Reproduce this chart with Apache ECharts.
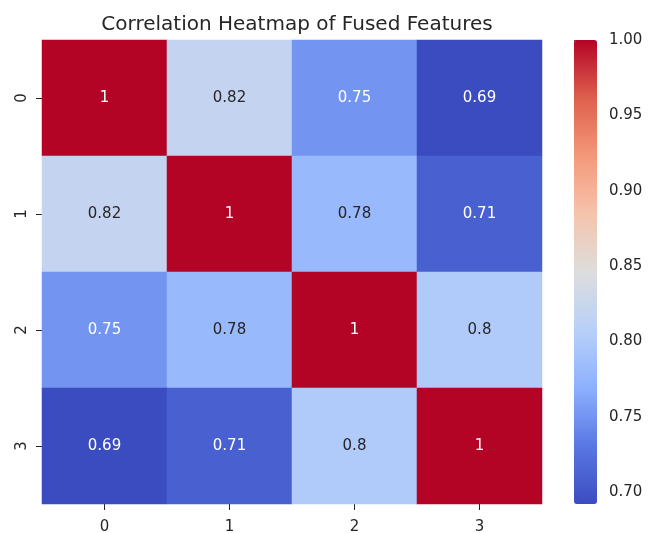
<!DOCTYPE html>
<html>
<head>
<meta charset="utf-8">
<script src="https://cdn.jsdelivr.net/npm/echarts@6/dist/echarts.min.js"></script>
<style>
  html, body { margin: 0; padding: 0; background: #fff; }
  #chart { width: 652px; height: 533px; }
</style>
</head>
<body>
<div id="chart"></div>
<script>
var features = ['0', '1', '2', '3'];
var corr = [
  [1, 0.82, 0.75, 0.69],
  [0.82, 1, 0.78, 0.71],
  [0.75, 0.78, 1, 0.8],
  [0.69, 0.71, 0.8, 1]
];
var colorbarTicks = [0.70, 0.75, 0.80, 0.85, 0.90, 0.95, 1.00];
var scaleMin = 0.692;
var scaleMax = 1;

// matplotlib "coolwarm" stops
var coolwarm = ['#3b4cc0', '#5977e3', '#8db0fe', '#b8d0f9', '#dddddd',
                '#f5c4ac', '#f4987a', '#de604d', '#b40426'];

var font = 'DejaVu Sans';
var ink = '#262626';
var hidden = { show: true, lineStyle: { color: 'rgba(0,0,0,0)' } };

var cells = [];
corr.forEach(function(row, y) {
  row.forEach(function(v, x) {
    var dark = v <= 0.755 || v >= 0.93;
    cells.push({
      value: [x, y, v],
      label: { color: dark ? '#ffffff' : ink }
    });
  });
});

var chart = echarts.init(document.getElementById('chart'), null, { renderer: 'canvas' });
chart.setOption({
  animation: false,
  title: {
    text: 'Correlation Heatmap of Fused Features',
    left: 292,
    top: 10,
    textAlign: 'center',
    textStyle: { fontFamily: font, fontSize: 20, fontWeight: 'normal', color: ink }
  },
  grid: [
    { left: 42, top: 40, width: 500, height: 464, outerBoundsMode: 'none' },
    { left: 574, top: 40, width: 23, height: 464, outerBoundsMode: 'none' }
  ],
  xAxis: [
    {
      type: 'category',
      data: features,
      gridIndex: 0,
      axisLine: hidden,
      axisTick: { show: true, alignWithLabel: true, length: 6, lineStyle: { color: ink } },
      axisLabel: { fontFamily: font, fontSize: 15, color: ink, margin: 16 },
      splitArea: { show: false }
    },
    { type: 'value', gridIndex: 1, show: false, min: 0, max: 1 }
  ],
  yAxis: [
    {
      type: 'category',
      data: features,
      inverse: true,
      gridIndex: 0,
      axisLine: hidden,
      axisTick: { show: true, alignWithLabel: true, length: 6, lineStyle: { color: ink } },
      axisLabel: { fontFamily: font, fontSize: 15, color: ink, rotate: 90, margin: 12 },
      splitArea: { show: false }
    },
    {
      type: 'value',
      gridIndex: 1,
      position: 'right',
      min: scaleMin,
      max: scaleMax,
      axisLine: hidden,
      splitLine: { show: false },
      axisTick: { show: true, length: 6, customValues: colorbarTicks, lineStyle: { color: ink } },
      axisLabel: {
        fontFamily: font, fontSize: 15, color: ink, margin: 12,
        customValues: colorbarTicks,
        formatter: function(v) { return v.toFixed(2); }
      }
    }
  ],
  visualMap: {
    type: 'continuous',
    min: scaleMin,
    max: scaleMax,
    seriesIndex: 0,
    calculable: false,
    orient: 'vertical',
    left: 574,
    top: 40,
    itemWidth: 23,
    itemHeight: 464,
    padding: 0,
    text: ['', ''],
    textGap: 0,
    showLabel: false,
    inRange: { color: coolwarm }
  },
  series: [
    {
      type: 'heatmap',
      xAxisIndex: 0,
      yAxisIndex: 0,
      data: cells,
      label: {
        show: true,
        fontFamily: font,
        fontSize: 15,
        formatter: function(p) { return String(p.value[2]); }
      },
      itemStyle: { borderWidth: 0 },
      emphasis: { disabled: true }
    }
  ]
});
</script>
</body>
</html>
